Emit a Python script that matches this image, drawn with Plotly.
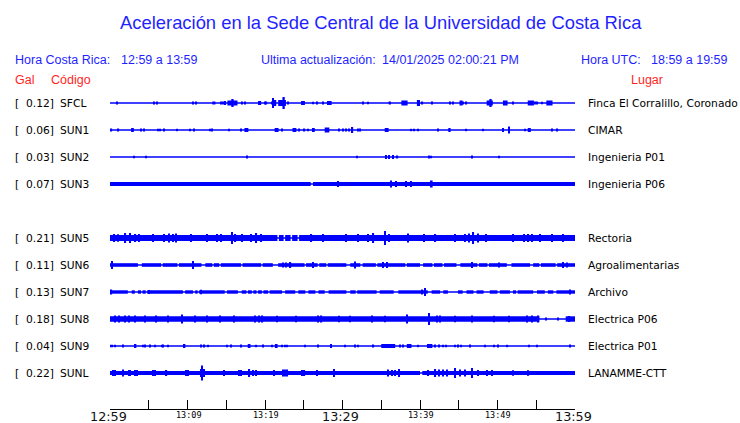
import plotly.graph_objects as go

W, H = 740, 423
BLUE = "#0000ff"
HDR_BLUE = "#1f1fff"
RED = "#ff1f1f"

# ---------------- data ----------------
stations = ["SFCL", "SUN1", "SUN2", "SUN3", "SUN5", "SUN6", "SUN7", "SUN8", "SUN9", "SUNL"]
gal = [0.12, 0.06, 0.03, 0.07, 0.21, 0.11, 0.13, 0.18, 0.04, 0.22]
places = ["Finca El Corralillo, Coronado", "CIMAR", "Ingenieria P01", "Ingenieria P06",
          "Rectoria", "Agroalimentarias", "Archivo", "Electrica P06", "Electrica P01",
          "LANAMME-CTT"]
slots = [0, 1, 2, 3, 5, 6, 7, 8, 9, 10]   # SUN4 slot is empty

# tick marks every 5 minutes, labels every 10 minutes (minutes after 12:59)
tick_minutes = list(range(0, 61, 5))
label_minutes = [0, 10, 20, 30, 40, 50, 60]
tick_labels = ["12:59", "13:09", "13:19", "13:29", "13:39", "13:49", "13:59"]
big_labels = [True, False, False, True, False, False, True]

# continuous band half-height (px) per station
band = [0, 0, 0, 2.0, 3.0, 1.8, 1.7, 2.7, 0, 2.1]

# intervals (minutes) where the band drops to the thin baseline
gaps = {
    "SUN3": [(25.9, 26.2)],
    "SUN5": [(21.6, 21.8), (22.4, 22.6), (23.3, 23.5), (24.2, 24.4)],
    "SUN6": [(3.6, 4.1), (6.6, 6.8), (8.7, 8.9), (11.8, 12.3), (13.2, 13.4), (14.1, 14.3),
             (16.9, 17.1), (19.5, 19.7), (21.0, 21.7), (25.1, 25.3), (26.8, 27.0),
             (27.9, 28.1), (30.5, 31.0), (32.3, 32.6), (34.3, 34.5), (38.1, 38.3),
             (40.0, 40.4), (41.6, 41.8), (42.9, 43.1), (44.7, 45.2), (47.4, 47.6),
             (48.7, 48.9), (51.2, 51.8), (54.2, 54.6), (55.4, 55.6), (57.5, 57.7)],
    "SUN7": [(2.3, 2.8), (3.2, 3.6), (4.0, 4.2), (4.6, 4.8), (9.4, 9.7), (10.7, 11.0),
             (11.3, 11.5), (14.8, 15.1), (16.5, 17.0), (17.6, 17.8), (18.3, 18.5),
             (18.9, 19.1), (19.6, 19.8), (20.4, 20.6), (22.2, 22.6), (23.9, 24.3),
             (25.2, 25.6), (26.5, 26.9), (27.7, 28.2), (30.5, 31.0), (31.7, 31.9),
             (34.4, 34.8), (36.6, 37.2), (41.0, 41.5), (42.6, 43.0), (43.6, 44.9),
             (45.5, 46.0), (46.9, 47.3), (48.2, 49.0), (50.0, 50.3), (51.6, 52.0),
             (52.4, 52.6), (54.6, 55.1), (56.1, 56.5), (57.2, 57.6)],
    "SUN8": [(55.4, 58.8)],
    "SUNL": [(40.0, 40.3)],
}

# spikes / bursts: (minute, half-height px, width minutes)
events = {
    "SFCL": [(0.9, 1.5), (5.7, 1.5), (6.1, 1.5), (10.7, 1.5), (11.1, 1.5), (13.4, 1.5, 0.4),
             (14.3, 1.5), (14.6, 1.5), (14.9, 2), (15.8, 2.5, 1.3), (15.8, 4, 0.3),
             (17.0, 1.5), (17.4, 1.5), (19.3, 2, 0.4), (20.0, 1.5), (20.2, 1.5), (20.9, 1.5),
             (21.2, 3, 0.5), (21.0, 5), (22.2, 3, 1.0), (22.4, 6, 0.3), (23.0, 1.5),
             (24.9, 2, 0.5), (26.2, 1.2), (26.7, 1.5), (27.5, 1.5), (28.3, 2, 0.6),
             (32.6, 1.5), (33.3, 1.2), (36.1, 1.5, 0.3), (38.0, 2.5, 0.8), (39.8, 3, 0.4),
             (40.3, 1.5, 0.2), (41.5, 1.5), (43.9, 1.5), (44.3, 1.5), (45.3, 2.5, 0.4),
             (45.6, 1.5), (46.0, 1.5), (49.0, 2.5, 0.8), (49.1, 4, 0.3), (51.0, 2.5, 0.6),
             (52.0, 1.5), (54.3, 2.5, 0.8), (54.8, 1.5), (55.1, 1.5), (55.7, 1.2),
             (56.7, 2.5, 0.8)],
    "SUN1": [(0.2, 1.5), (1.1, 1.5), (2.9, 2, 0.35), (4.0, 1.5), (4.4, 1.5), (6.2, 1.2),
             (6.4, 1.2), (7.0, 1.5), (8.7, 1.2), (10.3, 1.2), (10.8, 1.5), (12.9, 1.2),
             (13.2, 1.5), (15.4, 1.2), (16.9, 1.5), (17.6, 2, 0.5), (21.5, 2, 0.5),
             (22.2, 1.5), (23.8, 2, 0.5), (24.4, 1.5), (25.1, 1.5), (25.5, 1.2),
             (26.3, 2, 0.25), (28.0, 2.5, 0.6), (29.5, 1.5), (30.1, 1.5), (30.5, 1.5),
             (30.8, 1.5), (31.3, 3), (32.0, 1.5), (32.3, 1.5), (35.7, 2, 0.5), (38.9, 1.2),
             (39.2, 1.2), (39.7, 1.2), (42.3, 1.5), (43.8, 2, 0.3), (46.0, 1.2), (48.2, 1.2),
             (50.7, 2), (51.5, 3.5), (53.5, 1.2), (54.1, 2, 0.4), (57.0, 1.5), (57.7, 1.5)],
    "SUN2": [(3.1, 1.2), (4.6, 1.2), (17.7, 1.5), (31.9, 1.2), (35.6, 2), (36.0, 2),
             (36.5, 2), (37.1, 1.5), (41.2, 1.5), (41.4, 1.2), (46.7, 1.5), (50.2, 1.2)],
    "SUN3": [(29.4, 3), (36.3, 3.5), (36.9, 3), (38.2, 3), (38.8, 3), (41.5, 3.5, 0.25)],
    "SUN5": [(0.5, 4), (1.0, 3.8), (2.0, 5), (2.6, 5), (3.3, 4), (3.8, 4), (5.5, 4),
             (7.0, 4), (7.6, 4.5), (8.1, 4), (8.5, 4.5), (10.5, 4), (12.5, 4), (13.8, 4),
             (14.3, 4), (15.7, 6), (16.2, 4), (17.0, 4), (18.2, 4), (18.9, 5), (19.5, 4),
             (26.0, 4), (27.5, 4), (30.5, 4), (32.0, 4), (33.3, 4), (34.0, 5), (35.5, 7),
             (36.0, 4), (38.5, 4.5), (40.5, 4), (42.0, 4), (44.5, 4), (45.8, 4), (46.3, 4.5),
             (46.9, 6), (47.5, 4.5), (48.5, 4), (52.0, 4), (53.4, 4), (54.0, 4), (54.5, 4),
             (55.5, 4), (57.0, 4), (58.5, 4)],
    "SUN6": [(0.3, 4), (10.7, 4), (22.3, 2.5), (22.7, 2.5), (23.3, 3), (26.2, 3), (31.6, 3.5),
             (35.2, 3), (35.8, 3), (46.7, 3), (50.2, 2.5), (58.5, 3), (59.0, 2.5)],
    "SUN7": [(0.2, 2.5), (5.0, 2), (11.7, 2.2), (40.3, 2.5), (40.6, 4), (59.4, 2.5)],
    "SUN8": [(0.6, 3.5), (1.2, 3.5), (1.9, 3.5), (2.5, 3.5), (3.2, 3.5), (4.5, 3.5),
             (6.0, 3.5), (7.5, 3.5), (9.3, 4.5), (11.0, 3.5), (12.5, 3.5), (14.2, 3.5),
             (16.0, 3.5), (18.7, 3.5), (19.2, 3.5), (19.6, 3.5), (21.5, 3.2), (24.0, 3.2),
             (26.8, 3.5), (27.3, 3.5), (29.5, 3.2), (31.0, 3.2), (33.8, 3.5), (35.5, 3.2),
             (38.3, 4.5), (41.2, 6), (42.2, 3.5), (42.6, 3.5), (44.5, 3.2), (46.7, 3.5),
             (49.5, 3.2), (51.5, 3.2), (53.8, 3.5), (54.5, 3.5), (55.3, 3.5), (56.3, 1.5),
             (57.8, 1.5), (59.3, 3)],
    "SUN9": [(0.0, 1.2), (0.3, 1.2), (0.6, 1.2), (1.7, 1.5), (3.25, 2, 0.3), (4.3, 1.2),
             (4.5, 1.5), (5.2, 1.5), (5.8, 1.2), (6.7, 1.2), (6.9, 1.5), (7.5, 1.2),
             (9.6, 2, 0.25), (11.8, 1.5), (12.2, 1.5), (12.7, 1.2), (15.1, 1.2), (15.6, 1.5),
             (16.9, 1.5, 0.25), (17.95, 2, 0.35), (18.9, 1.2), (19.8, 1.5), (20.9, 1.2),
             (21.45, 2, 0.35), (22.2, 1.2), (22.6, 1.2), (22.9, 1.2), (25.2, 1.2),
             (26.9, 1.5), (28.5, 2), (30.3, 1.2), (31.6, 1.5), (32.0, 1.2), (34.0, 1.5),
             (35.9, 2, 1.8), (37.4, 1.5), (37.8, 1.5), (38.6, 2, 0.6), (39.8, 1.2),
             (41.25, 2, 0.7), (41.9, 1.5), (42.4, 1.5), (43.0, 1.2), (43.4, 1.2), (44.5, 1.2),
             (44.9, 1.5), (45.3, 1.2), (46.5, 1.5), (48.4, 1.2), (49.5, 1.2), (50.1, 1.5),
             (51.3, 1.2), (54.1, 1.2), (55.1, 1.2), (59.4, 1.5)],
    "SUNL": [(0.4, 3), (0.6, 3), (1.7, 3.5), (2.4, 3), (2.6, 3), (3.3, 3), (3.5, 3),
             (5.6, 3), (5.8, 3), (7.3, 3), (9.8, 3), (10.1, 3), (11.7, 4), (11.9, 7.5),
             (12.1, 4), (14.7, 3), (16.6, 3), (16.9, 3), (18.0, 4), (18.4, 3), (18.8, 3),
             (21.15, 3), (22.3, 3.5), (22.6, 3.5), (22.9, 3.5), (24.8, 3), (25.1, 3),
             (26.7, 3), (28.9, 4), (35.9, 3.5), (36.4, 3), (36.8, 3), (37.3, 4), (41.0, 3),
             (42.0, 4), (42.5, 3.5), (43.0, 3.5), (43.5, 3.5), (44.5, 5), (45.2, 3.5),
             (45.8, 3.5), (46.7, 5), (47.5, 3), (48.7, 3), (49.3, 3), (52.0, 2.8), (54.0, 2.8)],
}

# ---------------- layout constants (pixels) ----------------
T0, T1 = 0, 60
ROW0, ROW_STEP = 103, 27
AXIS_Y = 409
SPIKE_W = 0.15


def row_center(slot):
    return ROW0 + ROW_STEP * slot


fig = go.Figure()

# thin baselines
bx, by = [], []
for st, sl in zip(stations, slots):
    c = row_center(sl)
    bx += [T0, T1, None]
    by += [c, c, None]
fig.add_trace(go.Scatter(x=bx, y=by, mode="lines", line=dict(color=BLUE, width=1.4),
                         hoverinfo="skip", showlegend=False))

# bands + events as bars
for st, sl, bnd in zip(stations, slots, band):
    c = row_center(sl)
    xs, ws, bases, hs = [], [], [], []
    if bnd > 0:
        start = T0
        for g0, g1 in gaps.get(st, []) + [(T1, T1)]:
            if g0 > start:
                xs.append((start + g0) / 2)
                ws.append(g0 - start)
                bases.append(c - bnd)
                hs.append(2 * bnd)
            start = g1
    for ev in events.get(st, []):
        t, h = ev[0], ev[1]
        w = ev[2] if len(ev) > 2 else SPIKE_W
        xs.append(t)
        ws.append(w)
        bases.append(c - h)
        hs.append(2 * h)
    fig.add_trace(go.Bar(x=xs, y=hs, base=bases, width=ws, marker_color=BLUE,
                         marker_line_width=0, hoverinfo="skip", showlegend=False))


def px(x):
    return x / W


annotations = []


def txt(x, y, s, size, color, anchor="left", family="Liberation Sans, Arial, sans-serif"):
    annotations.append(dict(x=px(x), y=y, xref="paper", yref="y", text=s, showarrow=False,
                            xanchor=anchor, yanchor="middle", borderpad=0,
                            font=dict(size=size, color=color, family=family)))


# header
txt(381, 22, "Aceleración en la Sede Central de la Universidad de Costa Rica", 18.4, HDR_BLUE, "center")
txt(14, 60, "Hora Costa Rica:", 12.5, HDR_BLUE)
txt(120, 60, "12:59 a 13:59", 12.5, HDR_BLUE)
txt(260, 60, "Ultima actualización:", 12.5, HDR_BLUE)
txt(381, 60, "14/01/2025 02:00:21 PM", 12.5, HDR_BLUE)
txt(580, 60, "Hora UTC:", 12.5, HDR_BLUE)
txt(650, 60, "18:59 a 19:59", 12.5, HDR_BLUE)
txt(14, 80, "Gal", 12.5, RED)
txt(50, 80, "Código", 12.5, RED)
txt(630, 80, "Lugar", 12.5, RED)

DV = "DejaVu Sans, sans-serif"
for st, sl, g, pl in zip(stations, slots, gal, places):
    c = row_center(sl)
    txt(14, c, "[", 10.7, "black", "left", DV)
    txt(55, c, f"{g:.2f}]", 10.7, "black", "right", DV)
    txt(58.5, c, st, 10.7, "black", "left", DV)
    txt(587, c, pl, 10.7, "black", "left", DV)

# axis labels
x_dom0, x_dom1 = 110 / W, 575 / W
for m, lab, big in zip(label_minutes, tick_labels, big_labels):
    xp = 110 + (575 - 110) * (m - T0) / (T1 - T0)
    if big:
        txt(xp - 2, 416.5, lab, 12.8, "#111111", "center", DV)
    else:
        txt(xp + 1, 415, lab, 8.5, "black", "center", "DejaVu Sans Mono, monospace")

fig.update_layout(
    width=W, height=H, margin=dict(l=0, r=0, t=0, b=0),
    paper_bgcolor="white", plot_bgcolor="white",
    barmode="overlay", showlegend=False,
    annotations=annotations,
    xaxis=dict(domain=[x_dom0, x_dom1], range=[T0, T1], showgrid=False, zeroline=False,
               showline=True, linecolor="black", linewidth=1, ticks="inside", ticklen=9,
               tickcolor="black", tickwidth=1, tickvals=tick_minutes, showticklabels=False,
               anchor="free", position=(H - AXIS_Y) / H, fixedrange=True),
    yaxis=dict(domain=[0, 1], range=[H, 0], visible=False, fixedrange=True),
)

fig.write_html("out.html", config={"displayModeBar": False},
               post_script="document.body.style.margin='0px';document.body.style.overflow='hidden';")
